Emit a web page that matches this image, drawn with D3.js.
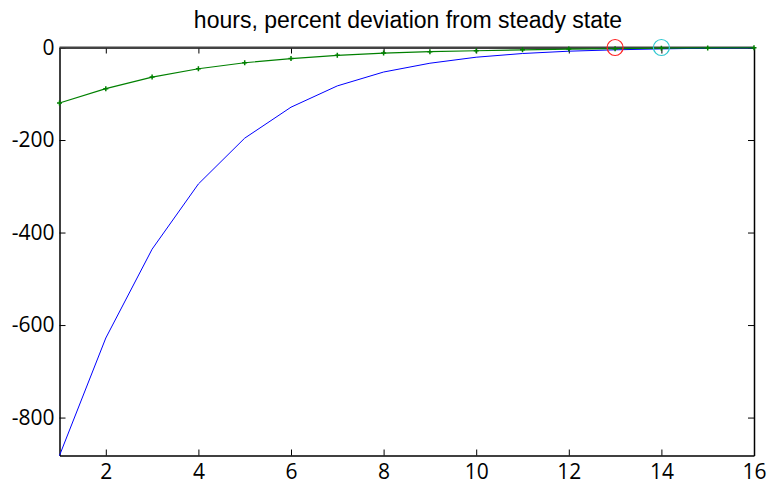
<!DOCTYPE html>
<html lang="en">
<head>
<meta charset="UTF-8">
<title>hours</title>
<script src="https://d3js.org/d3.v7.min.js"></script>
<style>
  body { margin: 0; background: #fff; }
  .tick text { font-family: "Open Sans", sans-serif; font-size: 21px; fill: #000; }
</style>
</head>
<body>
<div id="chart"></div>
<script>
var periods = d3.range(1, 17);
var blueVals = [-882, -628, -436, -295, -196, -129, -83, -53, -34, -21, -13, -8, -5, -3, -1.5, -0.8];
var greenVals = [-120, -89, -64, -46, -33, -24, -17, -12, -9, -7, -5, -3.5, -2.5, -1.5, -1, -0.5];
var xTicks = [2, 4, 6, 8, 10, 12, 14, 16];
var yTicks = [0, -200, -400, -600, -800];
var redMark = { x: 13, y: 0 };
var cyanMark = { x: 14, y: 0 };

var margin = { top: 47.5, right: 18, bottom: 31.5, left: 59.5 };
var width = 772 - margin.left - margin.right,
    height = 487 - margin.top - margin.bottom;

var svg = d3.select('#chart').append('svg')
  .attr('width', 772)
  .attr('height', 487);

var g = svg.append('g')
  .attr('transform', 'translate(' + margin.left + ',' + margin.top + ')');

var x = d3.scaleLinear().domain([1, 16]).range([0, width]);
var y = d3.scaleLinear().domain([-882, 0]).range([height, 0]);

var fmt = function(d) { return String(d); };

// axes (ticks inward, MATLAB style)
var axBottom = g.append('g').attr('transform', 'translate(0,' + height + ')')
  .call(d3.axisBottom(x).tickValues(xTicks).tickSize(-6).tickPadding(9).tickFormat(fmt).tickSizeOuter(0));
var axTop = g.append('g')
  .call(d3.axisTop(x).tickValues(xTicks).tickSize(-6).tickFormat('').tickSizeOuter(0));
var axLeft = g.append('g')
  .call(d3.axisLeft(y).tickValues(yTicks).tickSize(-6).tickPadding(5).tickFormat(fmt).tickSizeOuter(0));
var axRight = g.append('g').attr('transform', 'translate(' + width + ',0)')
  .call(d3.axisRight(y).tickValues(yTicks).tickSize(-6).tickFormat('').tickSizeOuter(0));

[axBottom, axTop, axLeft, axRight].forEach(function(a) {
  a.selectAll('path').attr('stroke', '#000').attr('stroke-width', 1.5);
  a.selectAll('line').attr('stroke', '#000');
});

// zero line
g.append('line')
  .attr('x1', 0).attr('x2', width)
  .attr('y1', y(0)).attr('y2', y(0))
  .attr('stroke', '#444').attr('stroke-width', 2);

var line = d3.line()
  .x(function(d, i) { return x(periods[i]); })
  .y(function(d) { return y(d); });

g.append('path').datum(blueVals)
  .attr('d', line)
  .attr('fill', 'none')
  .attr('stroke', '#0000ff')
  .attr('stroke-width', 1);

g.append('path').datum(greenVals)
  .attr('d', line)
  .attr('fill', 'none')
  .attr('stroke', '#008000')
  .attr('stroke-width', 1.2);

// green markers
g.selectAll('.gm').data(greenVals).enter().append('path')
  .attr('class', 'gm')
  .attr('transform', function(d, i) { return 'translate(' + x(periods[i]) + ',' + y(d) + ')'; })
  .attr('d', 'M-2.5,0H2.5M0,-2.5V2.5')
  .attr('stroke', '#008000')
  .attr('stroke-width', 1.5);

// highlight circles
[[redMark, '#ff2020'], [cyanMark, '#30c8d0']].forEach(function(m) {
  g.append('circle')
    .attr('cx', x(m[0].x)).attr('cy', y(m[0].y))
    .attr('r', 8)
    .attr('fill', 'none')
    .attr('stroke', m[1])
    .attr('stroke-width', 1.2);
});

svg.append('text')
  .attr('x', 408).attr('y', 28)
  .attr('text-anchor', 'middle')
  .style('font-family', '"Liberation Sans Narrow", "Arial Narrow", sans-serif')
  .style('font-size', '23px')
  .text('hours, percent deviation from steady state');
</script>
</body>
</html>
